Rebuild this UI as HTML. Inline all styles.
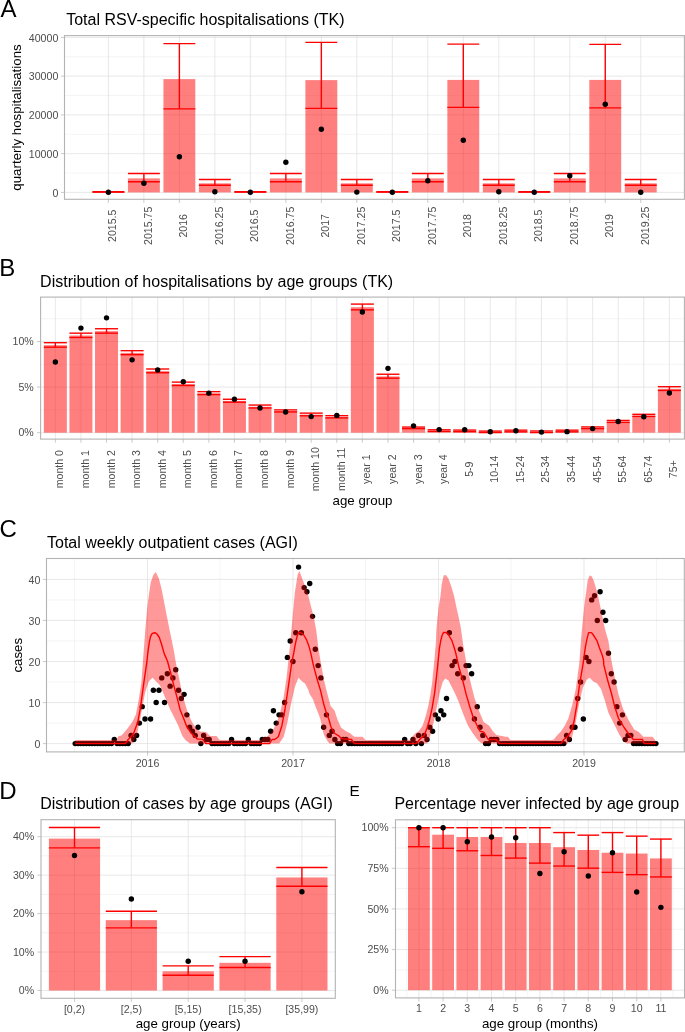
<!DOCTYPE html>
<html><head><meta charset="utf-8"><title>RSV figure</title>
<style>
html,body{margin:0;padding:0;background:#fff;}
body{width:685px;height:1032px;overflow:hidden;}
svg{display:block;font-family:"Liberation Sans", sans-serif;will-change:transform;}
</style></head>
<body>
<svg width="685" height="1032" viewBox="0 0 685 1032">
<rect x="0" y="0" width="685" height="1032" fill="#fff"/>
<line x1="64.5" y1="173.03" x2="684.4" y2="173.03" stroke="#DEDEDE" stroke-width="0.35"/>
<line x1="64.5" y1="134.28" x2="684.4" y2="134.28" stroke="#DEDEDE" stroke-width="0.35"/>
<line x1="64.5" y1="95.53" x2="684.4" y2="95.53" stroke="#DEDEDE" stroke-width="0.35"/>
<line x1="64.5" y1="56.78" x2="684.4" y2="56.78" stroke="#DEDEDE" stroke-width="0.35"/>
<line x1="64.5" y1="192.4" x2="684.4" y2="192.4" stroke="#DEDEDE" stroke-width="0.7"/>
<line x1="64.5" y1="153.65" x2="684.4" y2="153.65" stroke="#DEDEDE" stroke-width="0.7"/>
<line x1="64.5" y1="114.9" x2="684.4" y2="114.9" stroke="#DEDEDE" stroke-width="0.7"/>
<line x1="64.5" y1="76.15" x2="684.4" y2="76.15" stroke="#DEDEDE" stroke-width="0.7"/>
<line x1="64.5" y1="37.4" x2="684.4" y2="37.4" stroke="#DEDEDE" stroke-width="0.7"/>
<line x1="108.4" y1="35.6" x2="108.4" y2="199.3" stroke="#DEDEDE" stroke-width="0.7"/>
<line x1="143.89" y1="35.6" x2="143.89" y2="199.3" stroke="#DEDEDE" stroke-width="0.7"/>
<line x1="179.38" y1="35.6" x2="179.38" y2="199.3" stroke="#DEDEDE" stroke-width="0.7"/>
<line x1="214.87" y1="35.6" x2="214.87" y2="199.3" stroke="#DEDEDE" stroke-width="0.7"/>
<line x1="250.36" y1="35.6" x2="250.36" y2="199.3" stroke="#DEDEDE" stroke-width="0.7"/>
<line x1="285.85" y1="35.6" x2="285.85" y2="199.3" stroke="#DEDEDE" stroke-width="0.7"/>
<line x1="321.34" y1="35.6" x2="321.34" y2="199.3" stroke="#DEDEDE" stroke-width="0.7"/>
<line x1="356.83" y1="35.6" x2="356.83" y2="199.3" stroke="#DEDEDE" stroke-width="0.7"/>
<line x1="392.32" y1="35.6" x2="392.32" y2="199.3" stroke="#DEDEDE" stroke-width="0.7"/>
<line x1="427.81" y1="35.6" x2="427.81" y2="199.3" stroke="#DEDEDE" stroke-width="0.7"/>
<line x1="463.3" y1="35.6" x2="463.3" y2="199.3" stroke="#DEDEDE" stroke-width="0.7"/>
<line x1="498.79" y1="35.6" x2="498.79" y2="199.3" stroke="#DEDEDE" stroke-width="0.7"/>
<line x1="534.28" y1="35.6" x2="534.28" y2="199.3" stroke="#DEDEDE" stroke-width="0.7"/>
<line x1="569.77" y1="35.6" x2="569.77" y2="199.3" stroke="#DEDEDE" stroke-width="0.7"/>
<line x1="605.26" y1="35.6" x2="605.26" y2="199.3" stroke="#DEDEDE" stroke-width="0.7"/>
<line x1="640.75" y1="35.6" x2="640.75" y2="199.3" stroke="#DEDEDE" stroke-width="0.7"/>
<rect x="92.45" y="191.9" width="31.9" height="0.5" fill="#FF0000" fill-opacity="0.5"/>
<rect x="127.94" y="178.4" width="31.9" height="14" fill="#FF0000" fill-opacity="0.5"/>
<rect x="163.43" y="79.1" width="31.9" height="113.3" fill="#FF0000" fill-opacity="0.5"/>
<rect x="198.92" y="183.3" width="31.9" height="9.1" fill="#FF0000" fill-opacity="0.5"/>
<rect x="234.41" y="191.9" width="31.9" height="0.5" fill="#FF0000" fill-opacity="0.5"/>
<rect x="269.9" y="178.4" width="31.9" height="14" fill="#FF0000" fill-opacity="0.5"/>
<rect x="305.39" y="80.1" width="31.9" height="112.3" fill="#FF0000" fill-opacity="0.5"/>
<rect x="340.88" y="183.3" width="31.9" height="9.1" fill="#FF0000" fill-opacity="0.5"/>
<rect x="376.37" y="191.9" width="31.9" height="0.5" fill="#FF0000" fill-opacity="0.5"/>
<rect x="411.86" y="178.4" width="31.9" height="14" fill="#FF0000" fill-opacity="0.5"/>
<rect x="447.35" y="79.9" width="31.9" height="112.5" fill="#FF0000" fill-opacity="0.5"/>
<rect x="482.84" y="183.3" width="31.9" height="9.1" fill="#FF0000" fill-opacity="0.5"/>
<rect x="518.33" y="191.9" width="31.9" height="0.5" fill="#FF0000" fill-opacity="0.5"/>
<rect x="553.82" y="178.4" width="31.9" height="14" fill="#FF0000" fill-opacity="0.5"/>
<rect x="589.31" y="79.9" width="31.9" height="112.5" fill="#FF0000" fill-opacity="0.5"/>
<rect x="624.8" y="183.3" width="31.9" height="9.1" fill="#FF0000" fill-opacity="0.5"/>
<line x1="92.45" y1="191.75" x2="124.35" y2="191.75" stroke="#FF0000" stroke-width="1.4"/>
<line x1="92.45" y1="192.1" x2="124.35" y2="192.1" stroke="#FF0000" stroke-width="1.4"/>
<line x1="108.4" y1="191.75" x2="108.4" y2="192.1" stroke="#FF0000" stroke-width="1.4"/>
<line x1="127.94" y1="173.5" x2="159.84" y2="173.5" stroke="#FF0000" stroke-width="1.4"/>
<line x1="127.94" y1="181.75" x2="159.84" y2="181.75" stroke="#FF0000" stroke-width="1.4"/>
<line x1="143.89" y1="173.5" x2="143.89" y2="181.75" stroke="#FF0000" stroke-width="1.4"/>
<line x1="163.43" y1="43.65" x2="195.33" y2="43.65" stroke="#FF0000" stroke-width="1.4"/>
<line x1="163.43" y1="108.9" x2="195.33" y2="108.9" stroke="#FF0000" stroke-width="1.4"/>
<line x1="179.38" y1="43.65" x2="179.38" y2="108.9" stroke="#FF0000" stroke-width="1.4"/>
<line x1="198.92" y1="179.5" x2="230.82" y2="179.5" stroke="#FF0000" stroke-width="1.4"/>
<line x1="198.92" y1="185.2" x2="230.82" y2="185.2" stroke="#FF0000" stroke-width="1.4"/>
<line x1="214.87" y1="179.5" x2="214.87" y2="185.2" stroke="#FF0000" stroke-width="1.4"/>
<line x1="234.41" y1="191.75" x2="266.31" y2="191.75" stroke="#FF0000" stroke-width="1.4"/>
<line x1="234.41" y1="192.1" x2="266.31" y2="192.1" stroke="#FF0000" stroke-width="1.4"/>
<line x1="250.36" y1="191.75" x2="250.36" y2="192.1" stroke="#FF0000" stroke-width="1.4"/>
<line x1="269.9" y1="173.5" x2="301.8" y2="173.5" stroke="#FF0000" stroke-width="1.4"/>
<line x1="269.9" y1="181.75" x2="301.8" y2="181.75" stroke="#FF0000" stroke-width="1.4"/>
<line x1="285.85" y1="173.5" x2="285.85" y2="181.75" stroke="#FF0000" stroke-width="1.4"/>
<line x1="305.39" y1="42.4" x2="337.29" y2="42.4" stroke="#FF0000" stroke-width="1.4"/>
<line x1="305.39" y1="108.4" x2="337.29" y2="108.4" stroke="#FF0000" stroke-width="1.4"/>
<line x1="321.34" y1="42.4" x2="321.34" y2="108.4" stroke="#FF0000" stroke-width="1.4"/>
<line x1="340.88" y1="179.5" x2="372.78" y2="179.5" stroke="#FF0000" stroke-width="1.4"/>
<line x1="340.88" y1="185.2" x2="372.78" y2="185.2" stroke="#FF0000" stroke-width="1.4"/>
<line x1="356.83" y1="179.5" x2="356.83" y2="185.2" stroke="#FF0000" stroke-width="1.4"/>
<line x1="376.37" y1="191.75" x2="408.27" y2="191.75" stroke="#FF0000" stroke-width="1.4"/>
<line x1="376.37" y1="192.1" x2="408.27" y2="192.1" stroke="#FF0000" stroke-width="1.4"/>
<line x1="392.32" y1="191.75" x2="392.32" y2="192.1" stroke="#FF0000" stroke-width="1.4"/>
<line x1="411.86" y1="173.5" x2="443.76" y2="173.5" stroke="#FF0000" stroke-width="1.4"/>
<line x1="411.86" y1="181.75" x2="443.76" y2="181.75" stroke="#FF0000" stroke-width="1.4"/>
<line x1="427.81" y1="173.5" x2="427.81" y2="181.75" stroke="#FF0000" stroke-width="1.4"/>
<line x1="447.35" y1="44.1" x2="479.25" y2="44.1" stroke="#FF0000" stroke-width="1.4"/>
<line x1="447.35" y1="107.4" x2="479.25" y2="107.4" stroke="#FF0000" stroke-width="1.4"/>
<line x1="463.3" y1="44.1" x2="463.3" y2="107.4" stroke="#FF0000" stroke-width="1.4"/>
<line x1="482.84" y1="179.5" x2="514.74" y2="179.5" stroke="#FF0000" stroke-width="1.4"/>
<line x1="482.84" y1="185.2" x2="514.74" y2="185.2" stroke="#FF0000" stroke-width="1.4"/>
<line x1="498.79" y1="179.5" x2="498.79" y2="185.2" stroke="#FF0000" stroke-width="1.4"/>
<line x1="518.33" y1="191.75" x2="550.23" y2="191.75" stroke="#FF0000" stroke-width="1.4"/>
<line x1="518.33" y1="192.1" x2="550.23" y2="192.1" stroke="#FF0000" stroke-width="1.4"/>
<line x1="534.28" y1="191.75" x2="534.28" y2="192.1" stroke="#FF0000" stroke-width="1.4"/>
<line x1="553.82" y1="173.5" x2="585.72" y2="173.5" stroke="#FF0000" stroke-width="1.4"/>
<line x1="553.82" y1="181.75" x2="585.72" y2="181.75" stroke="#FF0000" stroke-width="1.4"/>
<line x1="569.77" y1="173.5" x2="569.77" y2="181.75" stroke="#FF0000" stroke-width="1.4"/>
<line x1="589.31" y1="44.4" x2="621.21" y2="44.4" stroke="#FF0000" stroke-width="1.4"/>
<line x1="589.31" y1="107.9" x2="621.21" y2="107.9" stroke="#FF0000" stroke-width="1.4"/>
<line x1="605.26" y1="44.4" x2="605.26" y2="107.9" stroke="#FF0000" stroke-width="1.4"/>
<line x1="624.8" y1="179.5" x2="656.7" y2="179.5" stroke="#FF0000" stroke-width="1.4"/>
<line x1="624.8" y1="185.2" x2="656.7" y2="185.2" stroke="#FF0000" stroke-width="1.4"/>
<line x1="640.75" y1="179.5" x2="640.75" y2="185.2" stroke="#FF0000" stroke-width="1.4"/>
<circle cx="108.4" cy="192.3" r="2.7" fill="#000"/>
<circle cx="143.89" cy="183.2" r="2.7" fill="#000"/>
<circle cx="179.38" cy="156.8" r="2.7" fill="#000"/>
<circle cx="214.87" cy="191.8" r="2.7" fill="#000"/>
<circle cx="250.36" cy="192.3" r="2.7" fill="#000"/>
<circle cx="285.85" cy="162.3" r="2.7" fill="#000"/>
<circle cx="321.34" cy="129.3" r="2.7" fill="#000"/>
<circle cx="356.83" cy="192.1" r="2.7" fill="#000"/>
<circle cx="392.32" cy="192.3" r="2.7" fill="#000"/>
<circle cx="427.81" cy="180.7" r="2.7" fill="#000"/>
<circle cx="463.3" cy="140.2" r="2.7" fill="#000"/>
<circle cx="498.79" cy="191.8" r="2.7" fill="#000"/>
<circle cx="534.28" cy="192.3" r="2.7" fill="#000"/>
<circle cx="569.77" cy="175.7" r="2.7" fill="#000"/>
<circle cx="605.26" cy="104.2" r="2.7" fill="#000"/>
<circle cx="640.75" cy="192.3" r="2.7" fill="#000"/>
<rect x="64.5" y="35.6" width="619.9" height="163.7" fill="none" stroke="#B3B3B3" stroke-width="1.1"/>
<line x1="60.9" y1="192.4" x2="64.5" y2="192.4" stroke="#B3B3B3" stroke-width="0.7"/>
<text x="58.3" y="196.7" font-size="10.6" fill="#4D4D4D" text-anchor="end">0</text>
<line x1="60.9" y1="153.65" x2="64.5" y2="153.65" stroke="#B3B3B3" stroke-width="0.7"/>
<text x="58.3" y="157.95" font-size="10.6" fill="#4D4D4D" text-anchor="end">10000</text>
<line x1="60.9" y1="114.9" x2="64.5" y2="114.9" stroke="#B3B3B3" stroke-width="0.7"/>
<text x="58.3" y="119.2" font-size="10.6" fill="#4D4D4D" text-anchor="end">20000</text>
<line x1="60.9" y1="76.15" x2="64.5" y2="76.15" stroke="#B3B3B3" stroke-width="0.7"/>
<text x="58.3" y="80.45" font-size="10.6" fill="#4D4D4D" text-anchor="end">30000</text>
<line x1="60.9" y1="37.4" x2="64.5" y2="37.4" stroke="#B3B3B3" stroke-width="0.7"/>
<text x="58.3" y="41.7" font-size="10.6" fill="#4D4D4D" text-anchor="end">40000</text>
<line x1="108.4" y1="199.3" x2="108.4" y2="202.9" stroke="#B3B3B3" stroke-width="0.7"/>
<line x1="143.89" y1="199.3" x2="143.89" y2="202.9" stroke="#B3B3B3" stroke-width="0.7"/>
<line x1="179.38" y1="199.3" x2="179.38" y2="202.9" stroke="#B3B3B3" stroke-width="0.7"/>
<line x1="214.87" y1="199.3" x2="214.87" y2="202.9" stroke="#B3B3B3" stroke-width="0.7"/>
<line x1="250.36" y1="199.3" x2="250.36" y2="202.9" stroke="#B3B3B3" stroke-width="0.7"/>
<line x1="285.85" y1="199.3" x2="285.85" y2="202.9" stroke="#B3B3B3" stroke-width="0.7"/>
<line x1="321.34" y1="199.3" x2="321.34" y2="202.9" stroke="#B3B3B3" stroke-width="0.7"/>
<line x1="356.83" y1="199.3" x2="356.83" y2="202.9" stroke="#B3B3B3" stroke-width="0.7"/>
<line x1="392.32" y1="199.3" x2="392.32" y2="202.9" stroke="#B3B3B3" stroke-width="0.7"/>
<line x1="427.81" y1="199.3" x2="427.81" y2="202.9" stroke="#B3B3B3" stroke-width="0.7"/>
<line x1="463.3" y1="199.3" x2="463.3" y2="202.9" stroke="#B3B3B3" stroke-width="0.7"/>
<line x1="498.79" y1="199.3" x2="498.79" y2="202.9" stroke="#B3B3B3" stroke-width="0.7"/>
<line x1="534.28" y1="199.3" x2="534.28" y2="202.9" stroke="#B3B3B3" stroke-width="0.7"/>
<line x1="569.77" y1="199.3" x2="569.77" y2="202.9" stroke="#B3B3B3" stroke-width="0.7"/>
<line x1="605.26" y1="199.3" x2="605.26" y2="202.9" stroke="#B3B3B3" stroke-width="0.7"/>
<line x1="640.75" y1="199.3" x2="640.75" y2="202.9" stroke="#B3B3B3" stroke-width="0.7"/>
<text transform="translate(116.4,225.8) rotate(-90)" font-size="10.6" fill="#4D4D4D" text-anchor="middle">2015.5</text>
<text transform="translate(151.89,225.8) rotate(-90)" font-size="10.6" fill="#4D4D4D" text-anchor="middle">2015.75</text>
<text transform="translate(187.38,225.8) rotate(-90)" font-size="10.6" fill="#4D4D4D" text-anchor="middle">2016</text>
<text transform="translate(222.87,225.8) rotate(-90)" font-size="10.6" fill="#4D4D4D" text-anchor="middle">2016.25</text>
<text transform="translate(258.36,225.8) rotate(-90)" font-size="10.6" fill="#4D4D4D" text-anchor="middle">2016.5</text>
<text transform="translate(293.85,225.8) rotate(-90)" font-size="10.6" fill="#4D4D4D" text-anchor="middle">2016.75</text>
<text transform="translate(329.34,225.8) rotate(-90)" font-size="10.6" fill="#4D4D4D" text-anchor="middle">2017</text>
<text transform="translate(364.83,225.8) rotate(-90)" font-size="10.6" fill="#4D4D4D" text-anchor="middle">2017.25</text>
<text transform="translate(400.32,225.8) rotate(-90)" font-size="10.6" fill="#4D4D4D" text-anchor="middle">2017.5</text>
<text transform="translate(435.81,225.8) rotate(-90)" font-size="10.6" fill="#4D4D4D" text-anchor="middle">2017.75</text>
<text transform="translate(471.3,225.8) rotate(-90)" font-size="10.6" fill="#4D4D4D" text-anchor="middle">2018</text>
<text transform="translate(506.79,225.8) rotate(-90)" font-size="10.6" fill="#4D4D4D" text-anchor="middle">2018.25</text>
<text transform="translate(542.28,225.8) rotate(-90)" font-size="10.6" fill="#4D4D4D" text-anchor="middle">2018.5</text>
<text transform="translate(577.77,225.8) rotate(-90)" font-size="10.6" fill="#4D4D4D" text-anchor="middle">2018.75</text>
<text transform="translate(613.26,225.8) rotate(-90)" font-size="10.6" fill="#4D4D4D" text-anchor="middle">2019</text>
<text transform="translate(648.75,225.8) rotate(-90)" font-size="10.6" fill="#4D4D4D" text-anchor="middle">2019.25</text>
<text transform="translate(20.8,117.5) rotate(-90)" font-size="13.3" fill="#000" text-anchor="middle">quarterly hospitalisations</text>
<text x="66.2" y="24.9" font-size="16.0" fill="#000" text-anchor="start">Total RSV-specific hospitalisations (TK)</text>
<text x="0.5" y="17.3" font-size="24.0" fill="#000" text-anchor="start">A</text>
<line x1="40.6" y1="409.9" x2="684.4" y2="409.9" stroke="#DEDEDE" stroke-width="0.35"/>
<line x1="40.6" y1="364.3" x2="684.4" y2="364.3" stroke="#DEDEDE" stroke-width="0.35"/>
<line x1="40.6" y1="318.7" x2="684.4" y2="318.7" stroke="#DEDEDE" stroke-width="0.35"/>
<line x1="40.6" y1="432.7" x2="684.4" y2="432.7" stroke="#DEDEDE" stroke-width="0.7"/>
<line x1="40.6" y1="387.1" x2="684.4" y2="387.1" stroke="#DEDEDE" stroke-width="0.7"/>
<line x1="40.6" y1="341.5" x2="684.4" y2="341.5" stroke="#DEDEDE" stroke-width="0.7"/>
<line x1="55.35" y1="297.1" x2="55.35" y2="439.1" stroke="#DEDEDE" stroke-width="0.7"/>
<line x1="80.94" y1="297.1" x2="80.94" y2="439.1" stroke="#DEDEDE" stroke-width="0.7"/>
<line x1="106.52" y1="297.1" x2="106.52" y2="439.1" stroke="#DEDEDE" stroke-width="0.7"/>
<line x1="132.1" y1="297.1" x2="132.1" y2="439.1" stroke="#DEDEDE" stroke-width="0.7"/>
<line x1="157.69" y1="297.1" x2="157.69" y2="439.1" stroke="#DEDEDE" stroke-width="0.7"/>
<line x1="183.28" y1="297.1" x2="183.28" y2="439.1" stroke="#DEDEDE" stroke-width="0.7"/>
<line x1="208.86" y1="297.1" x2="208.86" y2="439.1" stroke="#DEDEDE" stroke-width="0.7"/>
<line x1="234.44" y1="297.1" x2="234.44" y2="439.1" stroke="#DEDEDE" stroke-width="0.7"/>
<line x1="260.03" y1="297.1" x2="260.03" y2="439.1" stroke="#DEDEDE" stroke-width="0.7"/>
<line x1="285.62" y1="297.1" x2="285.62" y2="439.1" stroke="#DEDEDE" stroke-width="0.7"/>
<line x1="311.2" y1="297.1" x2="311.2" y2="439.1" stroke="#DEDEDE" stroke-width="0.7"/>
<line x1="336.79" y1="297.1" x2="336.79" y2="439.1" stroke="#DEDEDE" stroke-width="0.7"/>
<line x1="362.37" y1="297.1" x2="362.37" y2="439.1" stroke="#DEDEDE" stroke-width="0.7"/>
<line x1="387.96" y1="297.1" x2="387.96" y2="439.1" stroke="#DEDEDE" stroke-width="0.7"/>
<line x1="413.54" y1="297.1" x2="413.54" y2="439.1" stroke="#DEDEDE" stroke-width="0.7"/>
<line x1="439.13" y1="297.1" x2="439.13" y2="439.1" stroke="#DEDEDE" stroke-width="0.7"/>
<line x1="464.71" y1="297.1" x2="464.71" y2="439.1" stroke="#DEDEDE" stroke-width="0.7"/>
<line x1="490.3" y1="297.1" x2="490.3" y2="439.1" stroke="#DEDEDE" stroke-width="0.7"/>
<line x1="515.88" y1="297.1" x2="515.88" y2="439.1" stroke="#DEDEDE" stroke-width="0.7"/>
<line x1="541.47" y1="297.1" x2="541.47" y2="439.1" stroke="#DEDEDE" stroke-width="0.7"/>
<line x1="567.05" y1="297.1" x2="567.05" y2="439.1" stroke="#DEDEDE" stroke-width="0.7"/>
<line x1="592.63" y1="297.1" x2="592.63" y2="439.1" stroke="#DEDEDE" stroke-width="0.7"/>
<line x1="618.22" y1="297.1" x2="618.22" y2="439.1" stroke="#DEDEDE" stroke-width="0.7"/>
<line x1="643.81" y1="297.1" x2="643.81" y2="439.1" stroke="#DEDEDE" stroke-width="0.7"/>
<line x1="669.39" y1="297.1" x2="669.39" y2="439.1" stroke="#DEDEDE" stroke-width="0.7"/>
<rect x="43.85" y="345.14" width="23" height="87.56" fill="#FF0000" fill-opacity="0.5"/>
<rect x="69.44" y="335.51" width="23" height="97.19" fill="#FF0000" fill-opacity="0.5"/>
<rect x="95.02" y="331.15" width="23" height="101.55" fill="#FF0000" fill-opacity="0.5"/>
<rect x="120.6" y="352.89" width="23" height="79.81" fill="#FF0000" fill-opacity="0.5"/>
<rect x="146.19" y="371.09" width="23" height="61.61" fill="#FF0000" fill-opacity="0.5"/>
<rect x="171.78" y="384.02" width="23" height="48.68" fill="#FF0000" fill-opacity="0.5"/>
<rect x="197.36" y="393.33" width="23" height="39.37" fill="#FF0000" fill-opacity="0.5"/>
<rect x="222.94" y="400.94" width="23" height="31.76" fill="#FF0000" fill-opacity="0.5"/>
<rect x="248.53" y="406.72" width="23" height="25.98" fill="#FF0000" fill-opacity="0.5"/>
<rect x="274.12" y="411.12" width="23" height="21.58" fill="#FF0000" fill-opacity="0.5"/>
<rect x="299.7" y="414.65" width="23" height="18.05" fill="#FF0000" fill-opacity="0.5"/>
<rect x="325.29" y="416.99" width="23" height="15.71" fill="#FF0000" fill-opacity="0.5"/>
<rect x="350.87" y="307.17" width="23" height="125.53" fill="#FF0000" fill-opacity="0.5"/>
<rect x="376.46" y="376.41" width="23" height="56.29" fill="#FF0000" fill-opacity="0.5"/>
<rect x="402.04" y="428.04" width="23" height="4.66" fill="#FF0000" fill-opacity="0.5"/>
<rect x="427.63" y="430.79" width="23" height="1.91" fill="#FF0000" fill-opacity="0.5"/>
<rect x="453.21" y="431.06" width="23" height="1.64" fill="#FF0000" fill-opacity="0.5"/>
<rect x="478.8" y="432.02" width="23" height="0.68" fill="#FF0000" fill-opacity="0.5"/>
<rect x="504.38" y="431.2" width="23" height="1.5" fill="#FF0000" fill-opacity="0.5"/>
<rect x="529.97" y="431.98" width="23" height="0.72" fill="#FF0000" fill-opacity="0.5"/>
<rect x="555.55" y="431.2" width="23" height="1.5" fill="#FF0000" fill-opacity="0.5"/>
<rect x="581.13" y="427.99" width="23" height="4.71" fill="#FF0000" fill-opacity="0.5"/>
<rect x="606.72" y="421.62" width="23" height="11.08" fill="#FF0000" fill-opacity="0.5"/>
<rect x="632.31" y="415.56" width="23" height="17.14" fill="#FF0000" fill-opacity="0.5"/>
<rect x="657.89" y="388.79" width="23" height="43.91" fill="#FF0000" fill-opacity="0.5"/>
<line x1="43.85" y1="342.69" x2="66.85" y2="342.69" stroke="#FF0000" stroke-width="1.4"/>
<line x1="43.85" y1="347.19" x2="66.85" y2="347.19" stroke="#FF0000" stroke-width="1.4"/>
<line x1="55.35" y1="342.69" x2="55.35" y2="347.19" stroke="#FF0000" stroke-width="1.4"/>
<line x1="69.44" y1="333.16" x2="92.44" y2="333.16" stroke="#FF0000" stroke-width="1.4"/>
<line x1="69.44" y1="337.47" x2="92.44" y2="337.47" stroke="#FF0000" stroke-width="1.4"/>
<line x1="80.94" y1="333.16" x2="80.94" y2="337.47" stroke="#FF0000" stroke-width="1.4"/>
<line x1="95.02" y1="328.75" x2="118.02" y2="328.75" stroke="#FF0000" stroke-width="1.4"/>
<line x1="95.02" y1="333.16" x2="118.02" y2="333.16" stroke="#FF0000" stroke-width="1.4"/>
<line x1="106.52" y1="328.75" x2="106.52" y2="333.16" stroke="#FF0000" stroke-width="1.4"/>
<line x1="120.6" y1="350.67" x2="143.6" y2="350.67" stroke="#FF0000" stroke-width="1.4"/>
<line x1="120.6" y1="354.7" x2="143.6" y2="354.7" stroke="#FF0000" stroke-width="1.4"/>
<line x1="132.1" y1="350.67" x2="132.1" y2="354.7" stroke="#FF0000" stroke-width="1.4"/>
<line x1="146.19" y1="369.01" x2="169.19" y2="369.01" stroke="#FF0000" stroke-width="1.4"/>
<line x1="146.19" y1="372.77" x2="169.19" y2="372.77" stroke="#FF0000" stroke-width="1.4"/>
<line x1="157.69" y1="369.01" x2="157.69" y2="372.77" stroke="#FF0000" stroke-width="1.4"/>
<line x1="171.78" y1="382.12" x2="194.78" y2="382.12" stroke="#FF0000" stroke-width="1.4"/>
<line x1="171.78" y1="385.52" x2="194.78" y2="385.52" stroke="#FF0000" stroke-width="1.4"/>
<line x1="183.28" y1="382.12" x2="183.28" y2="385.52" stroke="#FF0000" stroke-width="1.4"/>
<line x1="197.36" y1="391.66" x2="220.36" y2="391.66" stroke="#FF0000" stroke-width="1.4"/>
<line x1="197.36" y1="394.59" x2="220.36" y2="394.59" stroke="#FF0000" stroke-width="1.4"/>
<line x1="208.86" y1="391.66" x2="208.86" y2="394.59" stroke="#FF0000" stroke-width="1.4"/>
<line x1="222.94" y1="399.27" x2="245.94" y2="399.27" stroke="#FF0000" stroke-width="1.4"/>
<line x1="222.94" y1="402.21" x2="245.94" y2="402.21" stroke="#FF0000" stroke-width="1.4"/>
<line x1="234.44" y1="399.27" x2="234.44" y2="402.21" stroke="#FF0000" stroke-width="1.4"/>
<line x1="248.53" y1="405.05" x2="271.53" y2="405.05" stroke="#FF0000" stroke-width="1.4"/>
<line x1="248.53" y1="407.98" x2="271.53" y2="407.98" stroke="#FF0000" stroke-width="1.4"/>
<line x1="260.03" y1="405.05" x2="260.03" y2="407.98" stroke="#FF0000" stroke-width="1.4"/>
<line x1="274.12" y1="409.91" x2="297.12" y2="409.91" stroke="#FF0000" stroke-width="1.4"/>
<line x1="274.12" y1="411.93" x2="297.12" y2="411.93" stroke="#FF0000" stroke-width="1.4"/>
<line x1="285.62" y1="409.91" x2="285.62" y2="411.93" stroke="#FF0000" stroke-width="1.4"/>
<line x1="299.7" y1="413.12" x2="322.7" y2="413.12" stroke="#FF0000" stroke-width="1.4"/>
<line x1="299.7" y1="415.78" x2="322.7" y2="415.78" stroke="#FF0000" stroke-width="1.4"/>
<line x1="311.2" y1="413.12" x2="311.2" y2="415.78" stroke="#FF0000" stroke-width="1.4"/>
<line x1="325.29" y1="415.69" x2="348.29" y2="415.69" stroke="#FF0000" stroke-width="1.4"/>
<line x1="325.29" y1="417.89" x2="348.29" y2="417.89" stroke="#FF0000" stroke-width="1.4"/>
<line x1="336.79" y1="415.69" x2="336.79" y2="417.89" stroke="#FF0000" stroke-width="1.4"/>
<line x1="350.87" y1="304.09" x2="373.87" y2="304.09" stroke="#FF0000" stroke-width="1.4"/>
<line x1="350.87" y1="309.86" x2="373.87" y2="309.86" stroke="#FF0000" stroke-width="1.4"/>
<line x1="362.37" y1="304.09" x2="362.37" y2="309.86" stroke="#FF0000" stroke-width="1.4"/>
<line x1="376.46" y1="374.24" x2="399.46" y2="374.24" stroke="#FF0000" stroke-width="1.4"/>
<line x1="376.46" y1="378.18" x2="399.46" y2="378.18" stroke="#FF0000" stroke-width="1.4"/>
<line x1="387.96" y1="374.24" x2="387.96" y2="378.18" stroke="#FF0000" stroke-width="1.4"/>
<line x1="402.04" y1="427.06" x2="425.04" y2="427.06" stroke="#FF0000" stroke-width="1.4"/>
<line x1="402.04" y1="428.62" x2="425.04" y2="428.62" stroke="#FF0000" stroke-width="1.4"/>
<line x1="413.54" y1="427.06" x2="413.54" y2="428.62" stroke="#FF0000" stroke-width="1.4"/>
<line x1="427.63" y1="429.81" x2="450.63" y2="429.81" stroke="#FF0000" stroke-width="1.4"/>
<line x1="427.63" y1="431.37" x2="450.63" y2="431.37" stroke="#FF0000" stroke-width="1.4"/>
<line x1="439.13" y1="429.81" x2="439.13" y2="431.37" stroke="#FF0000" stroke-width="1.4"/>
<line x1="453.21" y1="430.08" x2="476.21" y2="430.08" stroke="#FF0000" stroke-width="1.4"/>
<line x1="453.21" y1="431.64" x2="476.21" y2="431.64" stroke="#FF0000" stroke-width="1.4"/>
<line x1="464.71" y1="430.08" x2="464.71" y2="431.64" stroke="#FF0000" stroke-width="1.4"/>
<line x1="478.8" y1="431.09" x2="501.8" y2="431.09" stroke="#FF0000" stroke-width="1.4"/>
<line x1="478.8" y1="432.56" x2="501.8" y2="432.56" stroke="#FF0000" stroke-width="1.4"/>
<line x1="490.3" y1="431.09" x2="490.3" y2="432.56" stroke="#FF0000" stroke-width="1.4"/>
<line x1="504.38" y1="430.17" x2="527.38" y2="430.17" stroke="#FF0000" stroke-width="1.4"/>
<line x1="504.38" y1="431.82" x2="527.38" y2="431.82" stroke="#FF0000" stroke-width="1.4"/>
<line x1="515.88" y1="430.17" x2="515.88" y2="431.82" stroke="#FF0000" stroke-width="1.4"/>
<line x1="529.97" y1="431" x2="552.97" y2="431" stroke="#FF0000" stroke-width="1.4"/>
<line x1="529.97" y1="432.56" x2="552.97" y2="432.56" stroke="#FF0000" stroke-width="1.4"/>
<line x1="541.47" y1="431" x2="541.47" y2="432.56" stroke="#FF0000" stroke-width="1.4"/>
<line x1="555.55" y1="430.17" x2="578.55" y2="430.17" stroke="#FF0000" stroke-width="1.4"/>
<line x1="555.55" y1="431.82" x2="578.55" y2="431.82" stroke="#FF0000" stroke-width="1.4"/>
<line x1="567.05" y1="430.17" x2="567.05" y2="431.82" stroke="#FF0000" stroke-width="1.4"/>
<line x1="581.13" y1="426.96" x2="604.13" y2="426.96" stroke="#FF0000" stroke-width="1.4"/>
<line x1="581.13" y1="428.62" x2="604.13" y2="428.62" stroke="#FF0000" stroke-width="1.4"/>
<line x1="592.63" y1="426.96" x2="592.63" y2="428.62" stroke="#FF0000" stroke-width="1.4"/>
<line x1="606.72" y1="420.45" x2="629.72" y2="420.45" stroke="#FF0000" stroke-width="1.4"/>
<line x1="606.72" y1="422.38" x2="629.72" y2="422.38" stroke="#FF0000" stroke-width="1.4"/>
<line x1="618.22" y1="420.45" x2="618.22" y2="422.38" stroke="#FF0000" stroke-width="1.4"/>
<line x1="632.31" y1="414.31" x2="655.31" y2="414.31" stroke="#FF0000" stroke-width="1.4"/>
<line x1="632.31" y1="416.42" x2="655.31" y2="416.42" stroke="#FF0000" stroke-width="1.4"/>
<line x1="643.81" y1="414.31" x2="643.81" y2="416.42" stroke="#FF0000" stroke-width="1.4"/>
<line x1="657.89" y1="386.71" x2="680.89" y2="386.71" stroke="#FF0000" stroke-width="1.4"/>
<line x1="657.89" y1="390.47" x2="680.89" y2="390.47" stroke="#FF0000" stroke-width="1.4"/>
<line x1="669.39" y1="386.71" x2="669.39" y2="390.47" stroke="#FF0000" stroke-width="1.4"/>
<circle cx="55.35" cy="362.04" r="2.7" fill="#000"/>
<circle cx="80.94" cy="328.11" r="2.7" fill="#000"/>
<circle cx="106.52" cy="317.84" r="2.7" fill="#000"/>
<circle cx="132.1" cy="359.84" r="2.7" fill="#000"/>
<circle cx="157.69" cy="369.93" r="2.7" fill="#000"/>
<circle cx="183.28" cy="381.66" r="2.7" fill="#000"/>
<circle cx="208.86" cy="393.13" r="2.7" fill="#000"/>
<circle cx="234.44" cy="399.27" r="2.7" fill="#000"/>
<circle cx="260.03" cy="407.98" r="2.7" fill="#000"/>
<circle cx="285.62" cy="411.93" r="2.7" fill="#000"/>
<circle cx="311.2" cy="416.6" r="2.7" fill="#000"/>
<circle cx="336.79" cy="415.41" r="2.7" fill="#000"/>
<circle cx="362.37" cy="311.97" r="2.7" fill="#000"/>
<circle cx="387.96" cy="368.37" r="2.7" fill="#000"/>
<circle cx="413.54" cy="425.86" r="2.7" fill="#000"/>
<circle cx="439.13" cy="429.62" r="2.7" fill="#000"/>
<circle cx="464.71" cy="429.81" r="2.7" fill="#000"/>
<circle cx="490.3" cy="431.82" r="2.7" fill="#000"/>
<circle cx="515.88" cy="430.82" r="2.7" fill="#000"/>
<circle cx="541.47" cy="432.1" r="2.7" fill="#000"/>
<circle cx="567.05" cy="431.64" r="2.7" fill="#000"/>
<circle cx="592.63" cy="428.62" r="2.7" fill="#000"/>
<circle cx="618.22" cy="421.55" r="2.7" fill="#000"/>
<circle cx="643.81" cy="416.69" r="2.7" fill="#000"/>
<circle cx="669.39" cy="393.04" r="2.7" fill="#000"/>
<rect x="40.6" y="297.1" width="643.8" height="142" fill="none" stroke="#B3B3B3" stroke-width="1.1"/>
<line x1="37" y1="432.7" x2="40.6" y2="432.7" stroke="#B3B3B3" stroke-width="0.7"/>
<text x="33.7" y="436.45" font-size="10.6" fill="#4D4D4D" text-anchor="end">0%</text>
<line x1="37" y1="387.1" x2="40.6" y2="387.1" stroke="#B3B3B3" stroke-width="0.7"/>
<text x="33.7" y="390.85" font-size="10.6" fill="#4D4D4D" text-anchor="end">5%</text>
<line x1="37" y1="341.5" x2="40.6" y2="341.5" stroke="#B3B3B3" stroke-width="0.7"/>
<text x="33.7" y="345.25" font-size="10.6" fill="#4D4D4D" text-anchor="end">10%</text>
<line x1="55.35" y1="439.1" x2="55.35" y2="442.7" stroke="#B3B3B3" stroke-width="0.7"/>
<line x1="80.94" y1="439.1" x2="80.94" y2="442.7" stroke="#B3B3B3" stroke-width="0.7"/>
<line x1="106.52" y1="439.1" x2="106.52" y2="442.7" stroke="#B3B3B3" stroke-width="0.7"/>
<line x1="132.1" y1="439.1" x2="132.1" y2="442.7" stroke="#B3B3B3" stroke-width="0.7"/>
<line x1="157.69" y1="439.1" x2="157.69" y2="442.7" stroke="#B3B3B3" stroke-width="0.7"/>
<line x1="183.28" y1="439.1" x2="183.28" y2="442.7" stroke="#B3B3B3" stroke-width="0.7"/>
<line x1="208.86" y1="439.1" x2="208.86" y2="442.7" stroke="#B3B3B3" stroke-width="0.7"/>
<line x1="234.44" y1="439.1" x2="234.44" y2="442.7" stroke="#B3B3B3" stroke-width="0.7"/>
<line x1="260.03" y1="439.1" x2="260.03" y2="442.7" stroke="#B3B3B3" stroke-width="0.7"/>
<line x1="285.62" y1="439.1" x2="285.62" y2="442.7" stroke="#B3B3B3" stroke-width="0.7"/>
<line x1="311.2" y1="439.1" x2="311.2" y2="442.7" stroke="#B3B3B3" stroke-width="0.7"/>
<line x1="336.79" y1="439.1" x2="336.79" y2="442.7" stroke="#B3B3B3" stroke-width="0.7"/>
<line x1="362.37" y1="439.1" x2="362.37" y2="442.7" stroke="#B3B3B3" stroke-width="0.7"/>
<line x1="387.96" y1="439.1" x2="387.96" y2="442.7" stroke="#B3B3B3" stroke-width="0.7"/>
<line x1="413.54" y1="439.1" x2="413.54" y2="442.7" stroke="#B3B3B3" stroke-width="0.7"/>
<line x1="439.13" y1="439.1" x2="439.13" y2="442.7" stroke="#B3B3B3" stroke-width="0.7"/>
<line x1="464.71" y1="439.1" x2="464.71" y2="442.7" stroke="#B3B3B3" stroke-width="0.7"/>
<line x1="490.3" y1="439.1" x2="490.3" y2="442.7" stroke="#B3B3B3" stroke-width="0.7"/>
<line x1="515.88" y1="439.1" x2="515.88" y2="442.7" stroke="#B3B3B3" stroke-width="0.7"/>
<line x1="541.47" y1="439.1" x2="541.47" y2="442.7" stroke="#B3B3B3" stroke-width="0.7"/>
<line x1="567.05" y1="439.1" x2="567.05" y2="442.7" stroke="#B3B3B3" stroke-width="0.7"/>
<line x1="592.63" y1="439.1" x2="592.63" y2="442.7" stroke="#B3B3B3" stroke-width="0.7"/>
<line x1="618.22" y1="439.1" x2="618.22" y2="442.7" stroke="#B3B3B3" stroke-width="0.7"/>
<line x1="643.81" y1="439.1" x2="643.81" y2="442.7" stroke="#B3B3B3" stroke-width="0.7"/>
<line x1="669.39" y1="439.1" x2="669.39" y2="442.7" stroke="#B3B3B3" stroke-width="0.7"/>
<text transform="translate(63.35,469.2) rotate(-90)" font-size="10.6" fill="#4D4D4D" text-anchor="middle">month 0</text>
<text transform="translate(88.94,469.2) rotate(-90)" font-size="10.6" fill="#4D4D4D" text-anchor="middle">month 1</text>
<text transform="translate(114.52,469.2) rotate(-90)" font-size="10.6" fill="#4D4D4D" text-anchor="middle">month 2</text>
<text transform="translate(140.1,469.2) rotate(-90)" font-size="10.6" fill="#4D4D4D" text-anchor="middle">month 3</text>
<text transform="translate(165.69,469.2) rotate(-90)" font-size="10.6" fill="#4D4D4D" text-anchor="middle">month 4</text>
<text transform="translate(191.28,469.2) rotate(-90)" font-size="10.6" fill="#4D4D4D" text-anchor="middle">month 5</text>
<text transform="translate(216.86,469.2) rotate(-90)" font-size="10.6" fill="#4D4D4D" text-anchor="middle">month 6</text>
<text transform="translate(242.44,469.2) rotate(-90)" font-size="10.6" fill="#4D4D4D" text-anchor="middle">month 7</text>
<text transform="translate(268.03,469.2) rotate(-90)" font-size="10.6" fill="#4D4D4D" text-anchor="middle">month 8</text>
<text transform="translate(293.62,469.2) rotate(-90)" font-size="10.6" fill="#4D4D4D" text-anchor="middle">month 9</text>
<text transform="translate(319.2,469.2) rotate(-90)" font-size="10.6" fill="#4D4D4D" text-anchor="middle">month 10</text>
<text transform="translate(344.79,469.2) rotate(-90)" font-size="10.6" fill="#4D4D4D" text-anchor="middle">month 11</text>
<text transform="translate(370.37,469.2) rotate(-90)" font-size="10.6" fill="#4D4D4D" text-anchor="middle">year 1</text>
<text transform="translate(395.96,469.2) rotate(-90)" font-size="10.6" fill="#4D4D4D" text-anchor="middle">year 2</text>
<text transform="translate(421.54,469.2) rotate(-90)" font-size="10.6" fill="#4D4D4D" text-anchor="middle">year 3</text>
<text transform="translate(447.13,469.2) rotate(-90)" font-size="10.6" fill="#4D4D4D" text-anchor="middle">year 4</text>
<text transform="translate(472.71,469.2) rotate(-90)" font-size="10.6" fill="#4D4D4D" text-anchor="middle">5-9</text>
<text transform="translate(498.3,469.2) rotate(-90)" font-size="10.6" fill="#4D4D4D" text-anchor="middle">10-14</text>
<text transform="translate(523.88,469.2) rotate(-90)" font-size="10.6" fill="#4D4D4D" text-anchor="middle">15-24</text>
<text transform="translate(549.47,469.2) rotate(-90)" font-size="10.6" fill="#4D4D4D" text-anchor="middle">25-34</text>
<text transform="translate(575.05,469.2) rotate(-90)" font-size="10.6" fill="#4D4D4D" text-anchor="middle">35-44</text>
<text transform="translate(600.63,469.2) rotate(-90)" font-size="10.6" fill="#4D4D4D" text-anchor="middle">45-54</text>
<text transform="translate(626.22,469.2) rotate(-90)" font-size="10.6" fill="#4D4D4D" text-anchor="middle">55-64</text>
<text transform="translate(651.81,469.2) rotate(-90)" font-size="10.6" fill="#4D4D4D" text-anchor="middle">65-74</text>
<text transform="translate(677.39,469.2) rotate(-90)" font-size="10.6" fill="#4D4D4D" text-anchor="middle">75+</text>
<text x="362.5" y="505" font-size="13.3" fill="#000" text-anchor="middle">age group</text>
<text x="40.1" y="286.5" font-size="16.0" fill="#000" text-anchor="start">Distribution of hospitalisations by age groups (TK)</text>
<text x="-0.7" y="275.7" font-size="24.0" fill="#000" text-anchor="start">B</text>
<line x1="46.5" y1="723.08" x2="684.3" y2="723.08" stroke="#DEDEDE" stroke-width="0.35"/>
<line x1="46.5" y1="682.02" x2="684.3" y2="682.02" stroke="#DEDEDE" stroke-width="0.35"/>
<line x1="46.5" y1="640.98" x2="684.3" y2="640.98" stroke="#DEDEDE" stroke-width="0.35"/>
<line x1="46.5" y1="599.92" x2="684.3" y2="599.92" stroke="#DEDEDE" stroke-width="0.35"/>
<line x1="74.6" y1="558.5" x2="74.6" y2="751.9" stroke="#DEDEDE" stroke-width="0.35"/>
<line x1="220.1" y1="558.5" x2="220.1" y2="751.9" stroke="#DEDEDE" stroke-width="0.35"/>
<line x1="365.6" y1="558.5" x2="365.6" y2="751.9" stroke="#DEDEDE" stroke-width="0.35"/>
<line x1="511.1" y1="558.5" x2="511.1" y2="751.9" stroke="#DEDEDE" stroke-width="0.35"/>
<line x1="656.6" y1="558.5" x2="656.6" y2="751.9" stroke="#DEDEDE" stroke-width="0.35"/>
<line x1="46.5" y1="743.6" x2="684.3" y2="743.6" stroke="#DEDEDE" stroke-width="0.7"/>
<line x1="46.5" y1="702.55" x2="684.3" y2="702.55" stroke="#DEDEDE" stroke-width="0.7"/>
<line x1="46.5" y1="661.5" x2="684.3" y2="661.5" stroke="#DEDEDE" stroke-width="0.7"/>
<line x1="46.5" y1="620.45" x2="684.3" y2="620.45" stroke="#DEDEDE" stroke-width="0.7"/>
<line x1="46.5" y1="579.4" x2="684.3" y2="579.4" stroke="#DEDEDE" stroke-width="0.7"/>
<line x1="147.5" y1="558.5" x2="147.5" y2="751.9" stroke="#DEDEDE" stroke-width="0.7"/>
<line x1="293" y1="558.5" x2="293" y2="751.9" stroke="#DEDEDE" stroke-width="0.7"/>
<line x1="438.5" y1="558.5" x2="438.5" y2="751.9" stroke="#DEDEDE" stroke-width="0.7"/>
<line x1="584" y1="558.5" x2="584" y2="751.9" stroke="#DEDEDE" stroke-width="0.7"/>
<circle cx="75.2" cy="743.6" r="2.7" fill="#000"/>
<circle cx="77.99" cy="743.6" r="2.7" fill="#000"/>
<circle cx="80.78" cy="743.6" r="2.7" fill="#000"/>
<circle cx="83.58" cy="743.6" r="2.7" fill="#000"/>
<circle cx="86.37" cy="743.6" r="2.7" fill="#000"/>
<circle cx="89.16" cy="743.6" r="2.7" fill="#000"/>
<circle cx="91.95" cy="743.6" r="2.7" fill="#000"/>
<circle cx="94.74" cy="743.6" r="2.7" fill="#000"/>
<circle cx="97.54" cy="743.6" r="2.7" fill="#000"/>
<circle cx="100.33" cy="743.6" r="2.7" fill="#000"/>
<circle cx="103.12" cy="743.6" r="2.7" fill="#000"/>
<circle cx="105.91" cy="743.6" r="2.7" fill="#000"/>
<circle cx="108.7" cy="743.6" r="2.7" fill="#000"/>
<circle cx="111.5" cy="743.6" r="2.7" fill="#000"/>
<circle cx="114.29" cy="739.5" r="2.7" fill="#000"/>
<circle cx="117.08" cy="743.6" r="2.7" fill="#000"/>
<circle cx="119.87" cy="743.6" r="2.7" fill="#000"/>
<circle cx="122.66" cy="743.6" r="2.7" fill="#000"/>
<circle cx="125.46" cy="743.6" r="2.7" fill="#000"/>
<circle cx="128.25" cy="743.6" r="2.7" fill="#000"/>
<circle cx="131.04" cy="735.39" r="2.7" fill="#000"/>
<circle cx="133.83" cy="739.5" r="2.7" fill="#000"/>
<circle cx="136.62" cy="735.39" r="2.7" fill="#000"/>
<circle cx="139.42" cy="723.08" r="2.7" fill="#000"/>
<circle cx="142.21" cy="706.65" r="2.7" fill="#000"/>
<circle cx="145" cy="718.97" r="2.7" fill="#000"/>
<circle cx="150.58" cy="718.97" r="2.7" fill="#000"/>
<circle cx="153.38" cy="690.24" r="2.7" fill="#000"/>
<circle cx="156.17" cy="702.55" r="2.7" fill="#000"/>
<circle cx="158.96" cy="690.24" r="2.7" fill="#000"/>
<circle cx="161.75" cy="677.92" r="2.7" fill="#000"/>
<circle cx="164.54" cy="702.55" r="2.7" fill="#000"/>
<circle cx="167.34" cy="673.82" r="2.7" fill="#000"/>
<circle cx="170.13" cy="686.13" r="2.7" fill="#000"/>
<circle cx="172.92" cy="677.92" r="2.7" fill="#000"/>
<circle cx="175.71" cy="669.71" r="2.7" fill="#000"/>
<circle cx="178.5" cy="690.24" r="2.7" fill="#000"/>
<circle cx="181.3" cy="698.45" r="2.7" fill="#000"/>
<circle cx="184.09" cy="694.34" r="2.7" fill="#000"/>
<circle cx="186.88" cy="714.87" r="2.7" fill="#000"/>
<circle cx="189.67" cy="727.18" r="2.7" fill="#000"/>
<circle cx="192.46" cy="731.28" r="2.7" fill="#000"/>
<circle cx="195.26" cy="735.39" r="2.7" fill="#000"/>
<circle cx="198.05" cy="727.18" r="2.7" fill="#000"/>
<circle cx="200.84" cy="743.6" r="2.7" fill="#000"/>
<circle cx="203.63" cy="735.39" r="2.7" fill="#000"/>
<circle cx="206.42" cy="739.5" r="2.7" fill="#000"/>
<circle cx="209.22" cy="739.5" r="2.7" fill="#000"/>
<circle cx="212.01" cy="743.6" r="2.7" fill="#000"/>
<circle cx="214.8" cy="743.6" r="2.7" fill="#000"/>
<circle cx="217.59" cy="743.6" r="2.7" fill="#000"/>
<circle cx="220.38" cy="743.6" r="2.7" fill="#000"/>
<circle cx="223.18" cy="743.6" r="2.7" fill="#000"/>
<circle cx="225.97" cy="743.6" r="2.7" fill="#000"/>
<circle cx="228.76" cy="743.6" r="2.7" fill="#000"/>
<circle cx="231.55" cy="739.5" r="2.7" fill="#000"/>
<circle cx="234.34" cy="743.6" r="2.7" fill="#000"/>
<circle cx="237.14" cy="743.6" r="2.7" fill="#000"/>
<circle cx="239.93" cy="743.6" r="2.7" fill="#000"/>
<circle cx="242.72" cy="743.6" r="2.7" fill="#000"/>
<circle cx="245.51" cy="743.6" r="2.7" fill="#000"/>
<circle cx="248.3" cy="739.5" r="2.7" fill="#000"/>
<circle cx="251.1" cy="743.6" r="2.7" fill="#000"/>
<circle cx="253.89" cy="743.6" r="2.7" fill="#000"/>
<circle cx="256.68" cy="743.6" r="2.7" fill="#000"/>
<circle cx="259.47" cy="743.6" r="2.7" fill="#000"/>
<circle cx="262.26" cy="739.5" r="2.7" fill="#000"/>
<circle cx="265.06" cy="739.5" r="2.7" fill="#000"/>
<circle cx="267.85" cy="739.5" r="2.7" fill="#000"/>
<circle cx="270.64" cy="731.28" r="2.7" fill="#000"/>
<circle cx="273.43" cy="710.76" r="2.7" fill="#000"/>
<circle cx="276.22" cy="723.08" r="2.7" fill="#000"/>
<circle cx="279.02" cy="714.87" r="2.7" fill="#000"/>
<circle cx="281.81" cy="714.87" r="2.7" fill="#000"/>
<circle cx="284.6" cy="702.55" r="2.7" fill="#000"/>
<circle cx="287.39" cy="657.39" r="2.7" fill="#000"/>
<circle cx="290.18" cy="640.98" r="2.7" fill="#000"/>
<circle cx="292.98" cy="661.5" r="2.7" fill="#000"/>
<circle cx="295.77" cy="632.76" r="2.7" fill="#000"/>
<circle cx="298.56" cy="567.09" r="2.7" fill="#000"/>
<circle cx="301.35" cy="632.76" r="2.7" fill="#000"/>
<circle cx="304.14" cy="587.61" r="2.7" fill="#000"/>
<circle cx="306.94" cy="591.72" r="2.7" fill="#000"/>
<circle cx="309.73" cy="583.5" r="2.7" fill="#000"/>
<circle cx="312.52" cy="616.35" r="2.7" fill="#000"/>
<circle cx="315.31" cy="649.19" r="2.7" fill="#000"/>
<circle cx="318.1" cy="665.61" r="2.7" fill="#000"/>
<circle cx="320.9" cy="677.92" r="2.7" fill="#000"/>
<circle cx="323.69" cy="727.18" r="2.7" fill="#000"/>
<circle cx="326.48" cy="714.87" r="2.7" fill="#000"/>
<circle cx="329.27" cy="735.39" r="2.7" fill="#000"/>
<circle cx="332.06" cy="731.28" r="2.7" fill="#000"/>
<circle cx="334.86" cy="739.5" r="2.7" fill="#000"/>
<circle cx="337.65" cy="743.6" r="2.7" fill="#000"/>
<circle cx="340.44" cy="743.6" r="2.7" fill="#000"/>
<circle cx="343.23" cy="739.5" r="2.7" fill="#000"/>
<circle cx="346.02" cy="739.5" r="2.7" fill="#000"/>
<circle cx="348.82" cy="743.6" r="2.7" fill="#000"/>
<circle cx="351.61" cy="743.6" r="2.7" fill="#000"/>
<circle cx="354.4" cy="743.6" r="2.7" fill="#000"/>
<circle cx="357.19" cy="743.6" r="2.7" fill="#000"/>
<circle cx="359.98" cy="743.6" r="2.7" fill="#000"/>
<circle cx="362.78" cy="743.6" r="2.7" fill="#000"/>
<circle cx="365.57" cy="743.6" r="2.7" fill="#000"/>
<circle cx="368.36" cy="743.6" r="2.7" fill="#000"/>
<circle cx="371.15" cy="743.6" r="2.7" fill="#000"/>
<circle cx="373.94" cy="743.6" r="2.7" fill="#000"/>
<circle cx="376.74" cy="743.6" r="2.7" fill="#000"/>
<circle cx="379.53" cy="743.6" r="2.7" fill="#000"/>
<circle cx="382.32" cy="743.6" r="2.7" fill="#000"/>
<circle cx="385.11" cy="743.6" r="2.7" fill="#000"/>
<circle cx="387.9" cy="743.6" r="2.7" fill="#000"/>
<circle cx="390.7" cy="743.6" r="2.7" fill="#000"/>
<circle cx="393.49" cy="743.6" r="2.7" fill="#000"/>
<circle cx="396.28" cy="743.6" r="2.7" fill="#000"/>
<circle cx="399.07" cy="743.6" r="2.7" fill="#000"/>
<circle cx="401.86" cy="743.6" r="2.7" fill="#000"/>
<circle cx="404.66" cy="739.5" r="2.7" fill="#000"/>
<circle cx="407.45" cy="743.6" r="2.7" fill="#000"/>
<circle cx="410.24" cy="743.6" r="2.7" fill="#000"/>
<circle cx="413.03" cy="739.5" r="2.7" fill="#000"/>
<circle cx="415.82" cy="743.6" r="2.7" fill="#000"/>
<circle cx="418.62" cy="735.39" r="2.7" fill="#000"/>
<circle cx="421.41" cy="743.6" r="2.7" fill="#000"/>
<circle cx="424.2" cy="735.39" r="2.7" fill="#000"/>
<circle cx="426.99" cy="739.5" r="2.7" fill="#000"/>
<circle cx="429.78" cy="727.18" r="2.7" fill="#000"/>
<circle cx="432.58" cy="731.28" r="2.7" fill="#000"/>
<circle cx="435.37" cy="714.87" r="2.7" fill="#000"/>
<circle cx="438.16" cy="718.97" r="2.7" fill="#000"/>
<circle cx="440.95" cy="710.76" r="2.7" fill="#000"/>
<circle cx="443.74" cy="714.87" r="2.7" fill="#000"/>
<circle cx="446.54" cy="698.45" r="2.7" fill="#000"/>
<circle cx="449.33" cy="632.76" r="2.7" fill="#000"/>
<circle cx="452.12" cy="665.61" r="2.7" fill="#000"/>
<circle cx="454.91" cy="661.5" r="2.7" fill="#000"/>
<circle cx="457.7" cy="673.82" r="2.7" fill="#000"/>
<circle cx="460.5" cy="649.19" r="2.7" fill="#000"/>
<circle cx="463.29" cy="677.92" r="2.7" fill="#000"/>
<circle cx="466.08" cy="665.61" r="2.7" fill="#000"/>
<circle cx="468.87" cy="665.61" r="2.7" fill="#000"/>
<circle cx="471.66" cy="673.82" r="2.7" fill="#000"/>
<circle cx="474.46" cy="718.97" r="2.7" fill="#000"/>
<circle cx="477.25" cy="706.65" r="2.7" fill="#000"/>
<circle cx="480.04" cy="727.18" r="2.7" fill="#000"/>
<circle cx="482.83" cy="735.39" r="2.7" fill="#000"/>
<circle cx="485.62" cy="743.6" r="2.7" fill="#000"/>
<circle cx="488.42" cy="743.6" r="2.7" fill="#000"/>
<circle cx="491.21" cy="739.5" r="2.7" fill="#000"/>
<circle cx="494" cy="739.5" r="2.7" fill="#000"/>
<circle cx="496.79" cy="739.5" r="2.7" fill="#000"/>
<circle cx="499.58" cy="743.6" r="2.7" fill="#000"/>
<circle cx="502.38" cy="743.6" r="2.7" fill="#000"/>
<circle cx="505.17" cy="743.6" r="2.7" fill="#000"/>
<circle cx="507.96" cy="743.6" r="2.7" fill="#000"/>
<circle cx="510.75" cy="743.6" r="2.7" fill="#000"/>
<circle cx="513.54" cy="743.6" r="2.7" fill="#000"/>
<circle cx="516.34" cy="743.6" r="2.7" fill="#000"/>
<circle cx="519.13" cy="743.6" r="2.7" fill="#000"/>
<circle cx="521.92" cy="743.6" r="2.7" fill="#000"/>
<circle cx="524.71" cy="743.6" r="2.7" fill="#000"/>
<circle cx="527.5" cy="743.6" r="2.7" fill="#000"/>
<circle cx="530.3" cy="743.6" r="2.7" fill="#000"/>
<circle cx="533.09" cy="743.6" r="2.7" fill="#000"/>
<circle cx="535.88" cy="743.6" r="2.7" fill="#000"/>
<circle cx="538.67" cy="743.6" r="2.7" fill="#000"/>
<circle cx="541.46" cy="743.6" r="2.7" fill="#000"/>
<circle cx="544.26" cy="743.6" r="2.7" fill="#000"/>
<circle cx="547.05" cy="743.6" r="2.7" fill="#000"/>
<circle cx="549.84" cy="743.6" r="2.7" fill="#000"/>
<circle cx="552.63" cy="743.6" r="2.7" fill="#000"/>
<circle cx="555.42" cy="743.6" r="2.7" fill="#000"/>
<circle cx="558.22" cy="743.6" r="2.7" fill="#000"/>
<circle cx="561.01" cy="743.6" r="2.7" fill="#000"/>
<circle cx="563.8" cy="743.6" r="2.7" fill="#000"/>
<circle cx="566.59" cy="735.39" r="2.7" fill="#000"/>
<circle cx="569.38" cy="739.5" r="2.7" fill="#000"/>
<circle cx="572.18" cy="727.18" r="2.7" fill="#000"/>
<circle cx="574.97" cy="727.18" r="2.7" fill="#000"/>
<circle cx="577.76" cy="698.45" r="2.7" fill="#000"/>
<circle cx="580.55" cy="682.02" r="2.7" fill="#000"/>
<circle cx="583.34" cy="718.97" r="2.7" fill="#000"/>
<circle cx="586.14" cy="657.39" r="2.7" fill="#000"/>
<circle cx="588.93" cy="661.5" r="2.7" fill="#000"/>
<circle cx="591.72" cy="599.92" r="2.7" fill="#000"/>
<circle cx="594.51" cy="595.82" r="2.7" fill="#000"/>
<circle cx="597.3" cy="620.45" r="2.7" fill="#000"/>
<circle cx="600.1" cy="591.72" r="2.7" fill="#000"/>
<circle cx="602.89" cy="612.24" r="2.7" fill="#000"/>
<circle cx="605.68" cy="620.45" r="2.7" fill="#000"/>
<circle cx="608.47" cy="653.29" r="2.7" fill="#000"/>
<circle cx="611.26" cy="673.82" r="2.7" fill="#000"/>
<circle cx="614.06" cy="682.02" r="2.7" fill="#000"/>
<circle cx="616.85" cy="706.65" r="2.7" fill="#000"/>
<circle cx="619.64" cy="723.08" r="2.7" fill="#000"/>
<circle cx="622.43" cy="714.87" r="2.7" fill="#000"/>
<circle cx="625.22" cy="739.5" r="2.7" fill="#000"/>
<circle cx="628.02" cy="735.39" r="2.7" fill="#000"/>
<circle cx="630.81" cy="735.39" r="2.7" fill="#000"/>
<circle cx="633.6" cy="743.6" r="2.7" fill="#000"/>
<circle cx="636.39" cy="743.6" r="2.7" fill="#000"/>
<circle cx="639.18" cy="743.6" r="2.7" fill="#000"/>
<circle cx="641.98" cy="743.6" r="2.7" fill="#000"/>
<circle cx="644.77" cy="743.6" r="2.7" fill="#000"/>
<circle cx="647.56" cy="743.6" r="2.7" fill="#000"/>
<circle cx="650.35" cy="743.6" r="2.7" fill="#000"/>
<circle cx="653.14" cy="743.6" r="2.7" fill="#000"/>
<circle cx="655.94" cy="743.6" r="2.7" fill="#000"/>
<polygon points="75.2,740.1 116.5,740.1 118.5,735.9 121.5,735.5 126.7,729.4 132.3,722 135.9,714.6 138.7,699.9 141.5,681.5 143,660 145,633.6 146.1,620 147.3,607 148.2,600 149.3,592 150.7,582.5 153.4,574.7 155.8,572 158.9,578.4 161.7,589.5 166.3,613.6 169.8,631 171.7,640 173.9,650.7 176,663.4 178.7,676.2 181.3,689 184.5,701.8 187.7,712.5 192,722.1 196.2,728.5 200.5,731.7 205.8,731.7 210.1,735.9 216.5,735.9 219.7,740.1 261.5,740.1 263.5,737 267.2,736.7 271.8,732.1 276.4,723.8 280.1,712.8 283.8,696.2 286.5,677.8 289.3,652 292.1,622.6 294.8,593.1 297.6,574.7 299.4,571 302.2,578.5 304.5,584.5 307.4,591.7 310.5,604.5 313.6,616.5 316.2,630 318.3,647.5 320.5,660.9 324,680.3 327.5,694.3 330.6,705.9 334.5,710.5 337.6,719.8 341,727.5 346,731.2 349.7,733 354.3,736.7 362.6,736.7 365.4,740.1 408,740.1 410,739.7 415.1,733.4 418.9,730.9 422.6,725.8 425.8,715.7 428.3,705.7 430.2,695.6 432.1,683 433.3,670.4 434.6,657.8 435.9,642.5 436.3,630.9 437.3,619.3 438.6,607.6 440.5,596 441.7,584.4 443.6,575.5 445.9,575.1 448.3,578.2 451.4,586.7 454.1,596 456,605.3 458.3,615.4 460.7,627 463.2,645 467.1,666.8 470.8,683.3 474.5,698.1 479.1,711 483.7,722 489.2,725.7 492.9,731.2 496.5,734.9 505.8,736.7 508,736.7 510.4,740.1 552,740.1 553.7,739.5 557.4,734.9 561,731.2 564.7,725.7 568.4,718.3 572.1,705.4 575.8,688.9 579.3,663.1 581.2,637.3 584.2,606 587.7,580.3 589.6,575.6 591.5,576 593.7,580.5 597.4,593.1 601,609.7 604.7,628.1 608.4,641 611.2,659.4 614.9,677.8 618.5,694.4 623.1,709.1 628.7,720.2 634.2,729.4 638.8,732.1 643.4,736.7 652.6,736.7 655.8,741 655.8,743.6 626.8,743.6 624.1,741.3 619.5,734.9 613.9,723.8 608.4,712.8 604.7,699.9 601,688.9 596.9,683.3 593.3,681.5 589.6,677.8 586.8,679.7 583.1,687 579.5,701.8 575.8,722 572.1,736.7 567.5,743.6 481.8,743.6 478.1,740.4 472.6,733 468,725.7 463.4,714.6 457.9,699.9 454.8,693.1 451.6,686.8 448.5,680.5 445.3,678.6 442.8,681.7 440.3,690.5 437.1,705.7 434,720.8 430.2,735.9 427,743.6 329.5,743.6 327.6,741.3 323.9,734.9 320.5,719.8 319,715.2 315.9,707.4 312.8,698.9 309.7,694.3 308.1,689.6 305,683.4 302.2,681.5 298.5,677.8 294.8,687 291.1,703.6 287.5,722 283.8,736.7 279.2,743.6 189.8,743.6 185.6,740.2 182.4,735.9 178.1,725.3 173.9,716.7 169.6,708.2 164.3,695.4 159.9,685.2 156.2,681.5 152.5,677.8 148.8,681.5 145.1,692.5 142.4,707.3 139.6,722 136.9,734.9 132.3,743.6 75.2,743.6" fill="rgb(255,0,0)" fill-opacity="0.4" stroke="none"/>
<polyline points="75.2,743.6 125.5,743.6 128.2,739.5 131,737 134.1,732.1 137.8,722 140.5,707.3 143.5,685.2 146.7,663.1 148.1,650.7 149.4,641.9 150.5,636.6 152.2,633.4 154.9,632.7 157,634 159.3,637.5 161.7,644.7 164.3,653.9 167.5,661.3 170.7,673 173.9,685.8 177.1,697.6 180.3,710.3 183.4,717.8 186.6,726.3 190.9,732.7 194.1,735.9 197.3,739.1 202.6,739.1 205.8,743.6 269.5,743.6 272,739.5 274.6,739.5 278.3,736.7 281.9,725.7 284.7,711 287.5,692.5 290.6,671 291.7,662.5 292.4,659.4 293.8,652.9 295.3,644.1 296.8,637.5 298.2,633.5 299.5,632.3 301,632.8 303.4,634.5 306.5,639.7 308.7,645.4 310.6,652.4 313.5,665.6 317.4,680.3 320.5,690.4 323.6,703.6 325.9,711.3 329,719.8 331,727 334.1,733 338.7,735.8 341.4,738.6 351.5,739.5 354.3,743.6 416.3,743.6 420.1,739 423.9,735.9 427,728.3 429.6,719.5 432.1,708.2 434.6,693.1 436.5,676.7 438.3,659.4 439.4,648.5 440.7,641 442,635.5 443.6,632.4 446.2,632.5 448.4,634.5 451.9,640.6 454.1,647.2 455.8,653.3 457.2,659.4 458.8,666.8 462.5,679.7 466.2,694.4 469.9,707.3 473.5,718.3 477.2,725.7 480,731.2 483.7,732.1 488.3,739.5 496.5,739.5 499.3,743.6 561,743.6 563.8,739.5 567.5,736.7 571.2,731.2 573.9,722 576.7,705.4 579.5,685.2 583.2,663.1 584.4,654.2 585.5,646.3 586.8,639.7 588.6,632.6 591.4,632.6 593,634.5 596.9,640.6 599.5,648 602.2,655 603.5,660 603.8,664.9 607.5,679.7 611.2,692.5 614.9,707.3 618.5,718.3 624.1,727.5 628.7,734 633.3,739.5 642.5,739.5 644.3,743.6 655.8,743.6" fill="none" stroke="#FF0000" stroke-width="1.4" stroke-linejoin="round"/>
<rect x="46.5" y="558.5" width="637.8" height="193.4" fill="none" stroke="#B3B3B3" stroke-width="1.1"/>
<line x1="42.9" y1="743.6" x2="46.5" y2="743.6" stroke="#B3B3B3" stroke-width="0.7"/>
<text x="40.3" y="747.9" font-size="10.6" fill="#4D4D4D" text-anchor="end">0</text>
<line x1="42.9" y1="702.55" x2="46.5" y2="702.55" stroke="#B3B3B3" stroke-width="0.7"/>
<text x="40.3" y="706.85" font-size="10.6" fill="#4D4D4D" text-anchor="end">10</text>
<line x1="42.9" y1="661.5" x2="46.5" y2="661.5" stroke="#B3B3B3" stroke-width="0.7"/>
<text x="40.3" y="665.8" font-size="10.6" fill="#4D4D4D" text-anchor="end">20</text>
<line x1="42.9" y1="620.45" x2="46.5" y2="620.45" stroke="#B3B3B3" stroke-width="0.7"/>
<text x="40.3" y="624.75" font-size="10.6" fill="#4D4D4D" text-anchor="end">30</text>
<line x1="42.9" y1="579.4" x2="46.5" y2="579.4" stroke="#B3B3B3" stroke-width="0.7"/>
<text x="40.3" y="583.7" font-size="10.6" fill="#4D4D4D" text-anchor="end">40</text>
<line x1="147.5" y1="751.9" x2="147.5" y2="755.5" stroke="#B3B3B3" stroke-width="0.7"/>
<line x1="293" y1="751.9" x2="293" y2="755.5" stroke="#B3B3B3" stroke-width="0.7"/>
<line x1="438.5" y1="751.9" x2="438.5" y2="755.5" stroke="#B3B3B3" stroke-width="0.7"/>
<line x1="584" y1="751.9" x2="584" y2="755.5" stroke="#B3B3B3" stroke-width="0.7"/>
<text x="147.5" y="766.7" font-size="10.6" fill="#4D4D4D" text-anchor="middle">2016</text>
<text x="293" y="766.7" font-size="10.6" fill="#4D4D4D" text-anchor="middle">2017</text>
<text x="438.5" y="766.7" font-size="10.6" fill="#4D4D4D" text-anchor="middle">2018</text>
<text x="584" y="766.7" font-size="10.6" fill="#4D4D4D" text-anchor="middle">2019</text>
<text transform="translate(21.6,655.2) rotate(-90)" font-size="13.3" fill="#000" text-anchor="middle">cases</text>
<text x="47" y="547.9" font-size="16.0" fill="#000" text-anchor="start">Total weekly outpatient cases (AGI)</text>
<text x="-0.5" y="537.2" font-size="24.0" fill="#000" text-anchor="start">C</text>
<line x1="41" y1="971.27" x2="335.3" y2="971.27" stroke="#DEDEDE" stroke-width="0.35"/>
<line x1="41" y1="932.83" x2="335.3" y2="932.83" stroke="#DEDEDE" stroke-width="0.35"/>
<line x1="41" y1="894.38" x2="335.3" y2="894.38" stroke="#DEDEDE" stroke-width="0.35"/>
<line x1="41" y1="855.92" x2="335.3" y2="855.92" stroke="#DEDEDE" stroke-width="0.35"/>
<line x1="41" y1="990.5" x2="335.3" y2="990.5" stroke="#DEDEDE" stroke-width="0.7"/>
<line x1="41" y1="952.05" x2="335.3" y2="952.05" stroke="#DEDEDE" stroke-width="0.7"/>
<line x1="41" y1="913.6" x2="335.3" y2="913.6" stroke="#DEDEDE" stroke-width="0.7"/>
<line x1="41" y1="875.15" x2="335.3" y2="875.15" stroke="#DEDEDE" stroke-width="0.7"/>
<line x1="41" y1="836.7" x2="335.3" y2="836.7" stroke="#DEDEDE" stroke-width="0.7"/>
<line x1="74.5" y1="819.7" x2="74.5" y2="998.3" stroke="#DEDEDE" stroke-width="0.7"/>
<line x1="131.35" y1="819.7" x2="131.35" y2="998.3" stroke="#DEDEDE" stroke-width="0.7"/>
<line x1="188.2" y1="819.7" x2="188.2" y2="998.3" stroke="#DEDEDE" stroke-width="0.7"/>
<line x1="245.05" y1="819.7" x2="245.05" y2="998.3" stroke="#DEDEDE" stroke-width="0.7"/>
<line x1="301.9" y1="819.7" x2="301.9" y2="998.3" stroke="#DEDEDE" stroke-width="0.7"/>
<rect x="48.9" y="838.62" width="51.2" height="151.88" fill="#FF0000" fill-opacity="0.5"/>
<rect x="105.75" y="920.14" width="51.2" height="70.36" fill="#FF0000" fill-opacity="0.5"/>
<rect x="162.6" y="971.27" width="51.2" height="19.23" fill="#FF0000" fill-opacity="0.5"/>
<rect x="219.45" y="962.82" width="51.2" height="27.68" fill="#FF0000" fill-opacity="0.5"/>
<rect x="276.3" y="877.46" width="51.2" height="113.04" fill="#FF0000" fill-opacity="0.5"/>
<line x1="48.9" y1="827.47" x2="100.1" y2="827.47" stroke="#FF0000" stroke-width="1.4"/>
<line x1="48.9" y1="847.85" x2="100.1" y2="847.85" stroke="#FF0000" stroke-width="1.4"/>
<line x1="74.5" y1="827.47" x2="74.5" y2="847.85" stroke="#FF0000" stroke-width="1.4"/>
<line x1="105.75" y1="911.29" x2="156.95" y2="911.29" stroke="#FF0000" stroke-width="1.4"/>
<line x1="105.75" y1="927.83" x2="156.95" y2="927.83" stroke="#FF0000" stroke-width="1.4"/>
<line x1="131.35" y1="911.29" x2="131.35" y2="927.83" stroke="#FF0000" stroke-width="1.4"/>
<line x1="162.6" y1="965.89" x2="213.8" y2="965.89" stroke="#FF0000" stroke-width="1.4"/>
<line x1="162.6" y1="975.31" x2="213.8" y2="975.31" stroke="#FF0000" stroke-width="1.4"/>
<line x1="188.2" y1="965.89" x2="188.2" y2="975.31" stroke="#FF0000" stroke-width="1.4"/>
<line x1="219.45" y1="956.66" x2="270.65" y2="956.66" stroke="#FF0000" stroke-width="1.4"/>
<line x1="219.45" y1="967.43" x2="270.65" y2="967.43" stroke="#FF0000" stroke-width="1.4"/>
<line x1="245.05" y1="956.66" x2="245.05" y2="967.43" stroke="#FF0000" stroke-width="1.4"/>
<line x1="276.3" y1="867.46" x2="327.5" y2="867.46" stroke="#FF0000" stroke-width="1.4"/>
<line x1="276.3" y1="886.3" x2="327.5" y2="886.3" stroke="#FF0000" stroke-width="1.4"/>
<line x1="301.9" y1="867.46" x2="301.9" y2="886.3" stroke="#FF0000" stroke-width="1.4"/>
<circle cx="74.5" cy="855.54" r="2.7" fill="#000"/>
<circle cx="131.35" cy="898.99" r="2.7" fill="#000"/>
<circle cx="188.2" cy="961.28" r="2.7" fill="#000"/>
<circle cx="245.05" cy="961.28" r="2.7" fill="#000"/>
<circle cx="301.9" cy="891.68" r="2.7" fill="#000"/>
<rect x="41" y="819.7" width="294.3" height="178.6" fill="none" stroke="#B3B3B3" stroke-width="1.1"/>
<line x1="37.4" y1="990.5" x2="41" y2="990.5" stroke="#B3B3B3" stroke-width="0.7"/>
<text x="34.1" y="994.25" font-size="10.6" fill="#4D4D4D" text-anchor="end">0%</text>
<line x1="37.4" y1="952.05" x2="41" y2="952.05" stroke="#B3B3B3" stroke-width="0.7"/>
<text x="34.1" y="955.8" font-size="10.6" fill="#4D4D4D" text-anchor="end">10%</text>
<line x1="37.4" y1="913.6" x2="41" y2="913.6" stroke="#B3B3B3" stroke-width="0.7"/>
<text x="34.1" y="917.35" font-size="10.6" fill="#4D4D4D" text-anchor="end">20%</text>
<line x1="37.4" y1="875.15" x2="41" y2="875.15" stroke="#B3B3B3" stroke-width="0.7"/>
<text x="34.1" y="878.9" font-size="10.6" fill="#4D4D4D" text-anchor="end">30%</text>
<line x1="37.4" y1="836.7" x2="41" y2="836.7" stroke="#B3B3B3" stroke-width="0.7"/>
<text x="34.1" y="840.45" font-size="10.6" fill="#4D4D4D" text-anchor="end">40%</text>
<line x1="74.5" y1="998.3" x2="74.5" y2="1001.9" stroke="#B3B3B3" stroke-width="0.7"/>
<line x1="131.35" y1="998.3" x2="131.35" y2="1001.9" stroke="#B3B3B3" stroke-width="0.7"/>
<line x1="188.2" y1="998.3" x2="188.2" y2="1001.9" stroke="#B3B3B3" stroke-width="0.7"/>
<line x1="245.05" y1="998.3" x2="245.05" y2="1001.9" stroke="#B3B3B3" stroke-width="0.7"/>
<line x1="301.9" y1="998.3" x2="301.9" y2="1001.9" stroke="#B3B3B3" stroke-width="0.7"/>
<text x="74.5" y="1012.6" font-size="10.6" fill="#4D4D4D" text-anchor="middle">[0,2)</text>
<text x="131.35" y="1012.6" font-size="10.6" fill="#4D4D4D" text-anchor="middle">[2,5)</text>
<text x="188.2" y="1012.6" font-size="10.6" fill="#4D4D4D" text-anchor="middle">[5,15)</text>
<text x="245.05" y="1012.6" font-size="10.6" fill="#4D4D4D" text-anchor="middle">[15,35)</text>
<text x="301.9" y="1012.6" font-size="10.6" fill="#4D4D4D" text-anchor="middle">[35,99)</text>
<text x="188.15" y="1028" font-size="13.3" fill="#000" text-anchor="middle">age group (years)</text>
<text x="40.2" y="809.2" font-size="16.0" fill="#000" text-anchor="start">Distribution of cases by age groups (AGI)</text>
<text x="-0.7" y="798.6" font-size="24.0" fill="#000" text-anchor="start">D</text>
<line x1="395.5" y1="969.89" x2="684.5" y2="969.89" stroke="#DEDEDE" stroke-width="0.35"/>
<line x1="395.5" y1="929.26" x2="684.5" y2="929.26" stroke="#DEDEDE" stroke-width="0.35"/>
<line x1="395.5" y1="888.64" x2="684.5" y2="888.64" stroke="#DEDEDE" stroke-width="0.35"/>
<line x1="395.5" y1="848.01" x2="684.5" y2="848.01" stroke="#DEDEDE" stroke-width="0.35"/>
<line x1="406.8" y1="819.8" x2="406.8" y2="997.9" stroke="#DEDEDE" stroke-width="0.35"/>
<line x1="431" y1="819.8" x2="431" y2="997.9" stroke="#DEDEDE" stroke-width="0.35"/>
<line x1="455.2" y1="819.8" x2="455.2" y2="997.9" stroke="#DEDEDE" stroke-width="0.35"/>
<line x1="479.4" y1="819.8" x2="479.4" y2="997.9" stroke="#DEDEDE" stroke-width="0.35"/>
<line x1="503.6" y1="819.8" x2="503.6" y2="997.9" stroke="#DEDEDE" stroke-width="0.35"/>
<line x1="527.8" y1="819.8" x2="527.8" y2="997.9" stroke="#DEDEDE" stroke-width="0.35"/>
<line x1="552" y1="819.8" x2="552" y2="997.9" stroke="#DEDEDE" stroke-width="0.35"/>
<line x1="576.2" y1="819.8" x2="576.2" y2="997.9" stroke="#DEDEDE" stroke-width="0.35"/>
<line x1="600.4" y1="819.8" x2="600.4" y2="997.9" stroke="#DEDEDE" stroke-width="0.35"/>
<line x1="624.6" y1="819.8" x2="624.6" y2="997.9" stroke="#DEDEDE" stroke-width="0.35"/>
<line x1="648.8" y1="819.8" x2="648.8" y2="997.9" stroke="#DEDEDE" stroke-width="0.35"/>
<line x1="673" y1="819.8" x2="673" y2="997.9" stroke="#DEDEDE" stroke-width="0.35"/>
<line x1="395.5" y1="990.2" x2="684.5" y2="990.2" stroke="#DEDEDE" stroke-width="0.7"/>
<line x1="395.5" y1="949.58" x2="684.5" y2="949.58" stroke="#DEDEDE" stroke-width="0.7"/>
<line x1="395.5" y1="908.95" x2="684.5" y2="908.95" stroke="#DEDEDE" stroke-width="0.7"/>
<line x1="395.5" y1="868.33" x2="684.5" y2="868.33" stroke="#DEDEDE" stroke-width="0.7"/>
<line x1="395.5" y1="827.7" x2="684.5" y2="827.7" stroke="#DEDEDE" stroke-width="0.7"/>
<line x1="418.9" y1="819.8" x2="418.9" y2="997.9" stroke="#DEDEDE" stroke-width="0.7"/>
<line x1="443.1" y1="819.8" x2="443.1" y2="997.9" stroke="#DEDEDE" stroke-width="0.7"/>
<line x1="467.3" y1="819.8" x2="467.3" y2="997.9" stroke="#DEDEDE" stroke-width="0.7"/>
<line x1="491.5" y1="819.8" x2="491.5" y2="997.9" stroke="#DEDEDE" stroke-width="0.7"/>
<line x1="515.7" y1="819.8" x2="515.7" y2="997.9" stroke="#DEDEDE" stroke-width="0.7"/>
<line x1="539.9" y1="819.8" x2="539.9" y2="997.9" stroke="#DEDEDE" stroke-width="0.7"/>
<line x1="564.1" y1="819.8" x2="564.1" y2="997.9" stroke="#DEDEDE" stroke-width="0.7"/>
<line x1="588.3" y1="819.8" x2="588.3" y2="997.9" stroke="#DEDEDE" stroke-width="0.7"/>
<line x1="612.5" y1="819.8" x2="612.5" y2="997.9" stroke="#DEDEDE" stroke-width="0.7"/>
<line x1="636.7" y1="819.8" x2="636.7" y2="997.9" stroke="#DEDEDE" stroke-width="0.7"/>
<line x1="660.9" y1="819.8" x2="660.9" y2="997.9" stroke="#DEDEDE" stroke-width="0.7"/>
<rect x="408" y="827.7" width="21.8" height="162.5" fill="#FF0000" fill-opacity="0.5"/>
<rect x="432.2" y="834.69" width="21.8" height="155.51" fill="#FF0000" fill-opacity="0.5"/>
<rect x="456.4" y="836.96" width="21.8" height="153.24" fill="#FF0000" fill-opacity="0.5"/>
<rect x="480.6" y="836.96" width="21.8" height="153.24" fill="#FF0000" fill-opacity="0.5"/>
<rect x="504.8" y="842.98" width="21.8" height="147.23" fill="#FF0000" fill-opacity="0.5"/>
<rect x="529" y="842.98" width="21.8" height="147.23" fill="#FF0000" fill-opacity="0.5"/>
<rect x="553.2" y="847.2" width="21.8" height="143" fill="#FF0000" fill-opacity="0.5"/>
<rect x="577.4" y="849.96" width="21.8" height="140.24" fill="#FF0000" fill-opacity="0.5"/>
<rect x="601.6" y="852.73" width="21.8" height="137.48" fill="#FF0000" fill-opacity="0.5"/>
<rect x="625.8" y="853.54" width="21.8" height="136.66" fill="#FF0000" fill-opacity="0.5"/>
<rect x="650" y="858.41" width="21.8" height="131.79" fill="#FF0000" fill-opacity="0.5"/>
<line x1="408" y1="827.7" x2="429.8" y2="827.7" stroke="#FF0000" stroke-width="1.4"/>
<line x1="408" y1="846.71" x2="429.8" y2="846.71" stroke="#FF0000" stroke-width="1.4"/>
<line x1="418.9" y1="827.7" x2="418.9" y2="846.71" stroke="#FF0000" stroke-width="1.4"/>
<line x1="432.2" y1="827.7" x2="454" y2="827.7" stroke="#FF0000" stroke-width="1.4"/>
<line x1="432.2" y1="848.34" x2="454" y2="848.34" stroke="#FF0000" stroke-width="1.4"/>
<line x1="443.1" y1="827.7" x2="443.1" y2="848.34" stroke="#FF0000" stroke-width="1.4"/>
<line x1="456.4" y1="827.7" x2="478.2" y2="827.7" stroke="#FF0000" stroke-width="1.4"/>
<line x1="456.4" y1="850.78" x2="478.2" y2="850.78" stroke="#FF0000" stroke-width="1.4"/>
<line x1="467.3" y1="827.7" x2="467.3" y2="850.78" stroke="#FF0000" stroke-width="1.4"/>
<line x1="480.6" y1="827.7" x2="502.4" y2="827.7" stroke="#FF0000" stroke-width="1.4"/>
<line x1="480.6" y1="855.49" x2="502.4" y2="855.49" stroke="#FF0000" stroke-width="1.4"/>
<line x1="491.5" y1="827.7" x2="491.5" y2="855.49" stroke="#FF0000" stroke-width="1.4"/>
<line x1="504.8" y1="827.7" x2="526.6" y2="827.7" stroke="#FF0000" stroke-width="1.4"/>
<line x1="504.8" y1="858.09" x2="526.6" y2="858.09" stroke="#FF0000" stroke-width="1.4"/>
<line x1="515.7" y1="827.7" x2="515.7" y2="858.09" stroke="#FF0000" stroke-width="1.4"/>
<line x1="529" y1="827.7" x2="550.8" y2="827.7" stroke="#FF0000" stroke-width="1.4"/>
<line x1="529" y1="863.12" x2="550.8" y2="863.12" stroke="#FF0000" stroke-width="1.4"/>
<line x1="539.9" y1="827.7" x2="539.9" y2="863.12" stroke="#FF0000" stroke-width="1.4"/>
<line x1="553.2" y1="832.58" x2="575" y2="832.58" stroke="#FF0000" stroke-width="1.4"/>
<line x1="553.2" y1="866.05" x2="575" y2="866.05" stroke="#FF0000" stroke-width="1.4"/>
<line x1="564.1" y1="832.58" x2="564.1" y2="866.05" stroke="#FF0000" stroke-width="1.4"/>
<line x1="577.4" y1="835.18" x2="599.2" y2="835.18" stroke="#FF0000" stroke-width="1.4"/>
<line x1="577.4" y1="868.16" x2="599.2" y2="868.16" stroke="#FF0000" stroke-width="1.4"/>
<line x1="588.3" y1="835.18" x2="588.3" y2="868.16" stroke="#FF0000" stroke-width="1.4"/>
<line x1="601.6" y1="832.58" x2="623.4" y2="832.58" stroke="#FF0000" stroke-width="1.4"/>
<line x1="601.6" y1="872.39" x2="623.4" y2="872.39" stroke="#FF0000" stroke-width="1.4"/>
<line x1="612.5" y1="832.58" x2="612.5" y2="872.39" stroke="#FF0000" stroke-width="1.4"/>
<line x1="625.8" y1="836.15" x2="647.6" y2="836.15" stroke="#FF0000" stroke-width="1.4"/>
<line x1="625.8" y1="874.66" x2="647.6" y2="874.66" stroke="#FF0000" stroke-width="1.4"/>
<line x1="636.7" y1="836.15" x2="636.7" y2="874.66" stroke="#FF0000" stroke-width="1.4"/>
<line x1="650" y1="839.08" x2="671.8" y2="839.08" stroke="#FF0000" stroke-width="1.4"/>
<line x1="650" y1="876.94" x2="671.8" y2="876.94" stroke="#FF0000" stroke-width="1.4"/>
<line x1="660.9" y1="839.08" x2="660.9" y2="876.94" stroke="#FF0000" stroke-width="1.4"/>
<circle cx="418.9" cy="827.7" r="2.7" fill="#000"/>
<circle cx="443.1" cy="827.7" r="2.7" fill="#000"/>
<circle cx="467.3" cy="841.68" r="2.7" fill="#000"/>
<circle cx="491.5" cy="836.96" r="2.7" fill="#000"/>
<circle cx="515.7" cy="837.78" r="2.7" fill="#000"/>
<circle cx="539.9" cy="873.53" r="2.7" fill="#000"/>
<circle cx="564.1" cy="851.75" r="2.7" fill="#000"/>
<circle cx="588.3" cy="875.96" r="2.7" fill="#000"/>
<circle cx="612.5" cy="852.73" r="2.7" fill="#000"/>
<circle cx="636.7" cy="892.05" r="2.7" fill="#000"/>
<circle cx="660.9" cy="907.33" r="2.7" fill="#000"/>
<rect x="395.5" y="819.8" width="289" height="178.1" fill="none" stroke="#B3B3B3" stroke-width="1.1"/>
<line x1="391.9" y1="990.2" x2="395.5" y2="990.2" stroke="#B3B3B3" stroke-width="0.7"/>
<text x="388.6" y="993.95" font-size="10.6" fill="#4D4D4D" text-anchor="end">0%</text>
<line x1="391.9" y1="949.58" x2="395.5" y2="949.58" stroke="#B3B3B3" stroke-width="0.7"/>
<text x="388.6" y="953.33" font-size="10.6" fill="#4D4D4D" text-anchor="end">25%</text>
<line x1="391.9" y1="908.95" x2="395.5" y2="908.95" stroke="#B3B3B3" stroke-width="0.7"/>
<text x="388.6" y="912.7" font-size="10.6" fill="#4D4D4D" text-anchor="end">50%</text>
<line x1="391.9" y1="868.33" x2="395.5" y2="868.33" stroke="#B3B3B3" stroke-width="0.7"/>
<text x="388.6" y="872.08" font-size="10.6" fill="#4D4D4D" text-anchor="end">75%</text>
<line x1="391.9" y1="827.7" x2="395.5" y2="827.7" stroke="#B3B3B3" stroke-width="0.7"/>
<text x="388.6" y="831.45" font-size="10.6" fill="#4D4D4D" text-anchor="end">100%</text>
<line x1="418.9" y1="997.9" x2="418.9" y2="1001.5" stroke="#B3B3B3" stroke-width="0.7"/>
<line x1="443.1" y1="997.9" x2="443.1" y2="1001.5" stroke="#B3B3B3" stroke-width="0.7"/>
<line x1="467.3" y1="997.9" x2="467.3" y2="1001.5" stroke="#B3B3B3" stroke-width="0.7"/>
<line x1="491.5" y1="997.9" x2="491.5" y2="1001.5" stroke="#B3B3B3" stroke-width="0.7"/>
<line x1="515.7" y1="997.9" x2="515.7" y2="1001.5" stroke="#B3B3B3" stroke-width="0.7"/>
<line x1="539.9" y1="997.9" x2="539.9" y2="1001.5" stroke="#B3B3B3" stroke-width="0.7"/>
<line x1="564.1" y1="997.9" x2="564.1" y2="1001.5" stroke="#B3B3B3" stroke-width="0.7"/>
<line x1="588.3" y1="997.9" x2="588.3" y2="1001.5" stroke="#B3B3B3" stroke-width="0.7"/>
<line x1="612.5" y1="997.9" x2="612.5" y2="1001.5" stroke="#B3B3B3" stroke-width="0.7"/>
<line x1="636.7" y1="997.9" x2="636.7" y2="1001.5" stroke="#B3B3B3" stroke-width="0.7"/>
<line x1="660.9" y1="997.9" x2="660.9" y2="1001.5" stroke="#B3B3B3" stroke-width="0.7"/>
<text x="418.9" y="1012" font-size="10.6" fill="#4D4D4D" text-anchor="middle">1</text>
<text x="443.1" y="1012" font-size="10.6" fill="#4D4D4D" text-anchor="middle">2</text>
<text x="467.3" y="1012" font-size="10.6" fill="#4D4D4D" text-anchor="middle">3</text>
<text x="491.5" y="1012" font-size="10.6" fill="#4D4D4D" text-anchor="middle">4</text>
<text x="515.7" y="1012" font-size="10.6" fill="#4D4D4D" text-anchor="middle">5</text>
<text x="539.9" y="1012" font-size="10.6" fill="#4D4D4D" text-anchor="middle">6</text>
<text x="564.1" y="1012" font-size="10.6" fill="#4D4D4D" text-anchor="middle">7</text>
<text x="588.3" y="1012" font-size="10.6" fill="#4D4D4D" text-anchor="middle">8</text>
<text x="612.5" y="1012" font-size="10.6" fill="#4D4D4D" text-anchor="middle">9</text>
<text x="636.7" y="1012" font-size="10.6" fill="#4D4D4D" text-anchor="middle">10</text>
<text x="660.9" y="1012" font-size="10.6" fill="#4D4D4D" text-anchor="middle">11</text>
<text x="540" y="1027.5" font-size="13.3" fill="#000" text-anchor="middle">age group (months)</text>
<text x="394.4" y="809.2" font-size="16.0" fill="#000" text-anchor="start">Percentage never infected by age group</text>
<text x="349.4" y="796" font-size="15.3" fill="#000" text-anchor="start">E</text>
</svg>
</body></html>
